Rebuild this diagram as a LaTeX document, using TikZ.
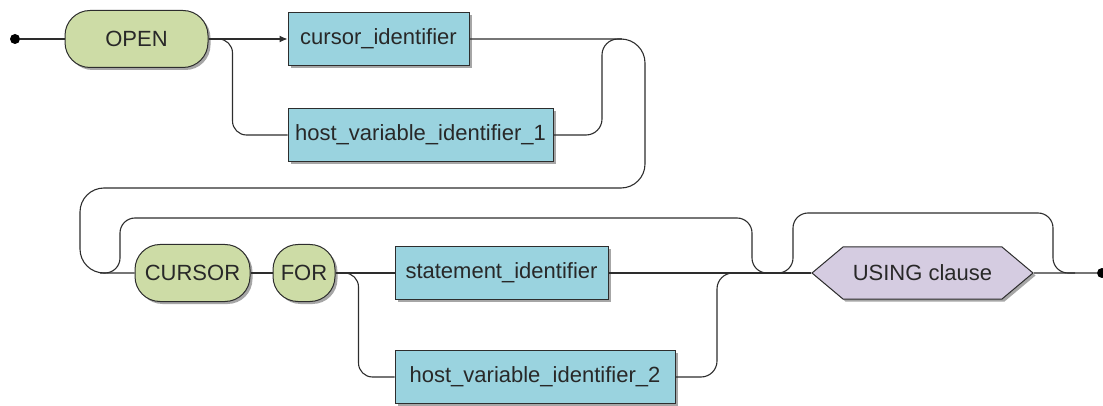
\documentclass[tikz,border=0pt]{standalone}
\usepackage{fontspec}
\setmainfont{Liberation Sans}
\usetikzlibrary{shapes.symbols,shadows,arrows.meta}

\definecolor{kwgreen}{RGB}{205,220,166}
\definecolor{idblue}{RGB}{154,211,223}
\definecolor{clslilac}{RGB}{213,204,225}
\definecolor{edgegray}{RGB}{45,45,45}
\definecolor{txtgray}{RGB}{40,40,40}

\tikzset{
  rail/.style={draw=edgegray, line width=1.1pt, rounded corners=16pt},
  boxshadow/.style={drop shadow={shadow xshift=2.5pt, shadow yshift=-2.5pt, fill=black, opacity=0.35}},
  railtext/.style={text=txtgray, font=\fontsize{22}{26}\selectfont, inner sep=0pt},
  keyword/.style={railtext, rectangle, draw=edgegray, line width=1pt, fill=kwgreen, rounded corners=25pt, minimum height=57pt, boxshadow},
  ident/.style={railtext, rectangle, draw=edgegray, line width=1pt, fill=idblue, minimum height=53pt, boxshadow},
  clause/.style={railtext, signal, signal to=west and east, signal pointer angle=80, draw=edgegray, line width=1pt, fill=clslilac, minimum height=52pt, boxshadow},
  railend/.style={circle, fill=black, inner sep=0pt, minimum size=10pt}
}

\begin{document}
\begin{tikzpicture}[x=1pt, y=-1pt]
\useasboundingbox (0,0) rectangle (1103,406);

% First row: OPEN and the cursor name
\node[railend] (start) at (15,39) {};
\node[keyword, minimum width=143pt] (open) at (136.5,39) {OPEN};
\node[ident, minimum width=181pt] (cursorid) at (378.5,39) {cursor\_identifier};
\node[ident, minimum width=265pt] (host1) at (420.5,135) {host\_variable\_identifier\_1};

% Second row: CURSOR FOR and the statement
\node[keyword, minimum width=115pt] (cursor) at (192.5,273) {CURSOR};
\node[keyword, minimum width=62pt] (for) at (304,273) {FOR};
\node[ident, minimum width=213pt] (stmt) at (501.5,273) {statement\_identifier};
\node[ident, minimum width=280pt] (host2) at (535,377) {host\_variable\_identifier\_2};
\node[clause, minimum width=221pt] (using) at (922.5,273) {USING clause};
\node[railend] (finish) at (1102,273) {};

% Junctions
\coordinate (rise1) at (602,39);
\coordinate (join1) at (622,39);
\coordinate (wrapR) at (645,188);
\coordinate (wrapL) at (80,273);
\coordinate (rise2) at (717,273);
\coordinate (join2) at (735,273);
\coordinate (skipA) at (100,273);
\coordinate (skipB) at (770,273);
\coordinate (optA) at (778,273);
\coordinate (optB) at (1075,273);

% First row rails
\draw[rail] (start) -- (open);
\draw[rail, -{Latex[length=8pt, width=7pt]}] (open.east) -- (cursorid.west);
\draw[rail, rounded corners=14pt] (open.east) -- ++(24,0) |- (host1.west);
\draw[rail] (host1.east) -| (rise1) -- (join1);

% Wrap down to the second row
\draw[rail, rounded corners=24pt] (cursorid.east) -| (wrapR) -| (wrapL) -- (cursor.west);

% Second row rails
\draw[rail] (cursor) -- (for);
\draw[rail] (for) -- (stmt);
\draw[rail, rounded corners=14pt] (for.east) -- ++(23,0) |- (host2.west);
\draw[rail] (host2.east) -| (rise2) -- (join2);
\draw[rail, line width=1.6pt] (stmt) -- (using);
\draw[rail, rounded corners=15pt] (skipA) -| ++(20,-55) -| ++(632,55) -- (skipB);
\draw[rail, rounded corners=15pt] (optA) -| ++(15,-60) -| ++(260,60) -- (optB);
\draw[rail] (using) -- (finish);

\end{tikzpicture}
\end{document}
